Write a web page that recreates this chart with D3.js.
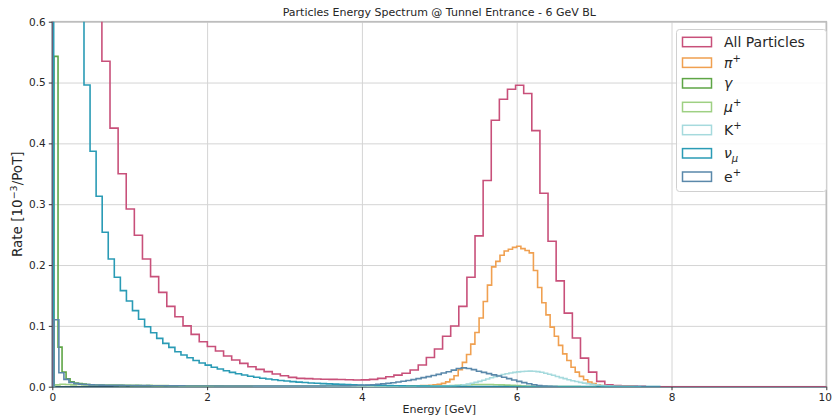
<!DOCTYPE html>
<html>
<head>
<meta charset="utf-8">
<script src="https://cdn.jsdelivr.net/npm/d3@7"></script>
<style>
  body { margin: 0; background: #fff; }
  svg { display: block; }
  text { font-family: "DejaVu Sans", sans-serif; }
</style>
</head>
<body>
<svg id="chart" width="832" height="417"></svg>
<script>
// ---- data -------------------------------------------------------------
const chartTitle = "Particles Energy Spectrum @ Tunnel Entrance - 6 GeV BL";
const xLabel = "Energy [GeV]";
const xTicks = [0, 2, 4, 6, 8, 10];
const yTicks = [0, 0.1, 0.2, 0.3, 0.4, 0.5, 0.6];

// Each species has its own 100-bin histogram: first edge and bin width in GeV,
// then the rate per bin in 10^-3 / PoT.
const allStart = 0.012, allWidth = 0.1048;
const allRate = [
  3.2, 2.3, 1.6, 1.15, 0.88, 0.69, 0.535, 0.425, 0.350, 0.292,
  0.249, 0.210, 0.181, 0.155, 0.132, 0.115, 0.100, 0.086, 0.074, 0.066,
  0.0586, 0.0504, 0.0438, 0.0384, 0.0329, 0.0285, 0.0247, 0.0208, 0.018, 0.0153,
  0.0137, 0.0132, 0.0126, 0.0123, 0.012, 0.0118, 0.0115, 0.011, 0.0113, 0.012,
  0.0137, 0.0164, 0.019, 0.022, 0.0274, 0.0356, 0.048, 0.062, 0.083, 0.0998,
  0.132, 0.180, 0.248, 0.339, 0.438, 0.4726, 0.489, 0.4956, 0.482, 0.421,
  0.318, 0.239, 0.174, 0.121, 0.080, 0.047, 0.024, 0.0088, 0.003, 0.002,
  0.001, 0.001, 0.0005, 0, 0, 0, 0, 0, 0, 0,
  0, 0, 0, 0, 0, 0, 0, 0, 0, 0,
  0, 0, 0, 0, 0, 0, 0, 0, 0, 0
];

const pipStart = 2.112, pipWidth = 0.054;
const pipRate = [
  0.0001, 0.0001, 0.0001, 0.0001, 0.0001, 0.0001, 0.0001, 0.0001, 0.0001, 0.0001,
  0.0001, 0.0001, 0.0001, 0.0001, 0.0001, 0.0001, 0.0001, 0.0001, 0.0001, 0.0001,
  0.0001, 0.0001, 0.0001, 0.0001, 0.0001, 0.0002, 0.0002, 0.0002, 0.0002, 0.0002,
  0.0002, 0.0002, 0.0003, 0.0003, 0.0003, 0.0003, 0.0004, 0.0004, 0.0004, 0.0005,
  0.0005, 0.0006, 0.0007, 0.0008, 0.0009, 0.001, 0.0011, 0.0013, 0.0015, 0.0017,
  0.002, 0.0025, 0.003, 0.004, 0.0055, 0.008, 0.012, 0.018, 0.028, 0.040,
  0.053, 0.070, 0.089, 0.113, 0.140, 0.167, 0.197, 0.206, 0.216, 0.223,
  0.226, 0.229, 0.231, 0.227, 0.224, 0.220, 0.191, 0.163, 0.138, 0.118,
  0.098, 0.083, 0.068, 0.054, 0.043, 0.032, 0.024, 0.017, 0.0115, 0.0077,
  0.005, 0.0033, 0.0018, 0.001, 0.0005, 0.0003, 0.0002, 0.0001, 0.0001, 0.0001
];

const gammaStart = 0.022, gammaWidth = 0.052;
const gammaRate = [
  0.543, 0.065, 0.024, 0.013, 0.008, 0.006, 0.005, 0.0042, 0.0036, 0.0032,
  0.0029, 0.0027, 0.0025, 0.0024, 0.0023, 0.0022, 0.0021, 0.002, 0.0019, 0.0018,
  0.0017, 0.0016, 0.0016, 0.0015, 0.0015, 0.0014, 0.0014, 0.0013, 0.0013, 0.0012,
  0.0012, 0.0011, 0.0011, 0.0011, 0.001, 0.001, 0.001, 0.001, 0.0009, 0.0009,
  0.0009, 0.0009, 0.0008, 0.0008, 0.0008, 0.0008, 0.0008, 0.0007, 0.0007, 0.0007,
  0.0007, 0.0006, 0.0006, 0.0006, 0.0006, 0.0006, 0.0006, 0.0005, 0.0005, 0.0005,
  0.0005, 0.0005, 0.0005, 0.0005, 0.0005, 0.0005, 0.0005, 0.0005, 0.0005, 0.0005,
  0.0005, 0.0005, 0.0005, 0.0005, 0.0005, 0.0005, 0.0004, 0.0004, 0.0004, 0.0004,
  0.0004, 0.0004, 0.0004, 0.0004, 0.0005, 0.0005, 0.0006, 0.0007, 0.0008, 0.0009,
  0.001, 0.001, 0.001, 0.0009, 0.0008, 0.0007, 0.0006, 0.0005, 0.0004, 0.0003
];

const mupStart = 0.03, mupWidth = 0.07;
const mupRate = [
  0.003, 0.004, 0.0035, 0.003, 0.0035, 0.003, 0.0028, 0.003, 0.0027, 0.0025,
  0.0028, 0.0024, 0.0022, 0.0025, 0.002, 0.0022, 0.0019, 0.0021, 0.0018, 0.0017,
  0.0019, 0.0016, 0.0015, 0.0008, 0.0007, 0.0007, 0.0006, 0.0006, 0.0006, 0.0005,
  0.0005, 0.0005, 0.0005, 0.0004, 0.0004, 0.0004, 0.0004, 0.0004, 0.0004, 0.0004,
  0.0004, 0.0004, 0.0004, 0.0004, 0.0004, 0.0004, 0.0004, 0.0004, 0.0004, 0.0004,
  0.0004, 0.0004, 0.0004, 0.0004, 0.0004, 0.0004, 0.0004, 0.0004, 0.0004, 0.0004,
  0.0005, 0.0005, 0.0006, 0.0006, 0.0007, 0.0007, 0.0008, 0.0008, 0.0009, 0.001,
  0.0011, 0.0012, 0.0015, 0.002, 0.0025, 0.003, 0.0034, 0.0036, 0.0037, 0.0036,
  0.0035, 0.0033, 0.003, 0.0026, 0.0022, 0.0017, 0.0012, 0.0008, 0.0005, 0.0003,
  0.0002, 0.0002, 0.0001, 0.0001, 0.0001, 0.0001, 0.0001, 0, 0, 0
];

const kpStart = 2.6, kpWidth = 0.05;
const kpRate = [
  0.0001, 0.0001, 0.0001, 0.0001, 0.0001, 0.0001, 0.0001, 0.0001, 0.0001, 0.0001,
  0.0001, 0.0001, 0.0001, 0.0001, 0.0001, 0.0001, 0.0001, 0.0001, 0.0001, 0.0001,
  0.0001, 0.0001, 0.0001, 0.0001, 0.0001, 0.0001, 0.0001, 0.0001, 0.0001, 0.0001,
  0.0002, 0.0002, 0.0002, 0.0002, 0.0002, 0.0002, 0.0002, 0.0002, 0.0002, 0.0002,
  0.0004, 0.0004, 0.0005, 0.0006, 0.0006, 0.0007, 0.0008, 0.0009, 0.001, 0.0011,
  0.0012, 0.0015, 0.0019, 0.0025, 0.0033, 0.0043, 0.0056, 0.0071, 0.0088, 0.0107,
  0.0127, 0.0147, 0.0166, 0.0184, 0.0200, 0.0214, 0.0226, 0.0236, 0.0244, 0.0250,
  0.0254, 0.0256, 0.0254, 0.0248, 0.0237, 0.0222, 0.0205, 0.0187, 0.0168, 0.0150,
  0.0132, 0.0115, 0.0099, 0.0085, 0.0071, 0.0059, 0.0048, 0.0039, 0.0031, 0.0024,
  0.0018, 0.0014, 0.0010, 0.0007, 0.0005, 0.0004, 0.0003, 0.0002, 0.0001, 0.0001
];

const numuStart = 0.018, numuWidth = 0.0783;
const numuRate = [
  4.5, 2.4, 1.4, 0.95, 0.70, 0.496, 0.387, 0.313, 0.254, 0.210,
  0.180, 0.158, 0.141, 0.125, 0.111, 0.0986, 0.0888, 0.0795, 0.0712, 0.0647,
  0.0575, 0.052, 0.0475, 0.043, 0.039, 0.0355, 0.032, 0.029, 0.0262, 0.0236,
  0.0213, 0.0192, 0.0173, 0.0156, 0.014, 0.0126, 0.0114, 0.0103, 0.0093, 0.0084,
  0.0076, 0.0069, 0.0062, 0.0056, 0.0051, 0.0046, 0.0042, 0.0038, 0.0034, 0.0031,
  0.0028, 0.0025, 0.0023, 0.0021, 0.0019, 0.0017, 0.0015, 0.0014, 0.0012, 0.0011,
  0.001, 0.0009, 0.0008, 0.0007, 0.0006, 0.0005, 0.0005, 0.0004, 0.0003, 0.0003,
  0.0002, 0.0002, 0.0002, 0.0002, 0.0002, 0.0001, 0.0001, 0.0001, 0.0001, 0.0001,
  0.0001, 0.0001, 0.0001, 0.0001, 0.0001, 0.0001, 0.0001, 0.0001, 0.0001, 0.0001,
  0.0001, 0.0001, 0.0001, 0.0001, 0.0001, 0.0001, 0.0001, 0.0001, 0.0001, 0.0001
];

const epStart = 0.02, epWidth = 0.065;
const epRate = [
  0.110, 0.023, 0.012, 0.007, 0.005, 0.004, 0.0035, 0.003, 0.0028, 0.0026,
  0.0025, 0.0024, 0.0022, 0.0021, 0.002, 0.0019, 0.0018, 0.0017, 0.0017, 0.0016,
  0.0015, 0.0015, 0.0014, 0.0014, 0.0013, 0.0013, 0.0012, 0.0012, 0.0012, 0.0011,
  0.0011, 0.0011, 0.001, 0.001, 0.001, 0.001, 0.0009, 0.0009, 0.0009, 0.0009,
  0.0009, 0.0009, 0.0009, 0.0009, 0.0009, 0.0009, 0.0009, 0.0009, 0.001, 0.001,
  0.001, 0.001, 0.001, 0.001, 0.0011, 0.0011, 0.0012, 0.0013, 0.0014, 0.0016,
  0.0019, 0.0022, 0.0027, 0.0033, 0.004, 0.0047, 0.0056, 0.0066, 0.0077, 0.0089,
  0.0102, 0.0117, 0.0133, 0.0149, 0.0166, 0.0184, 0.0203, 0.0224, 0.0246, 0.0272,
  0.0298, 0.031, 0.030, 0.028, 0.0255, 0.0235, 0.0215, 0.0195, 0.0175, 0.0155,
  0.0133, 0.011, 0.0088, 0.0067, 0.0048, 0.0031, 0.0018, 0.001, 0.0005, 0.0002
];

const seriesLabels = ["All Particles", "π+", "γ", "μ+", "K+", "νμ", "e+"];
const seriesColors = ["#c8507a", "#f0a050", "#5ea545", "#9ed083", "#a6dadd", "#2a9bb5", "#5a88aa"];

// ---- layout -----------------------------------------------------------
const plot = { left: 52.3, right: 826.3, top: 21.7, bottom: 386.7 };

const svg = d3.select("#chart");
const x = d3.scaleLinear().domain([0, 10]).range([plot.left, plot.right]);
const y = d3.scaleLinear().domain([0, 0.6]).range([plot.bottom, plot.top]);

// grid
svg.append("g")
  .attr("transform", `translate(0,${plot.bottom})`)
  .call(d3.axisBottom(x).tickValues(xTicks).tickSize(-(plot.bottom - plot.top)).tickFormat(""))
  .call(g => g.select(".domain").remove())
  .selectAll("line").attr("stroke", "#d4d4d4").attr("stroke-width", 1);
svg.append("g")
  .attr("transform", `translate(${plot.left},0)`)
  .call(d3.axisLeft(y).tickValues(yTicks).tickSize(-(plot.right - plot.left)).tickFormat(""))
  .call(g => g.select(".domain").remove())
  .selectAll("line").attr("stroke", "#d4d4d4").attr("stroke-width", 1);

// frame: light top/right, darker left/bottom spines
svg.append("rect")
  .attr("x", plot.left).attr("y", plot.top)
  .attr("width", plot.right - plot.left).attr("height", plot.bottom - plot.top)
  .attr("fill", "none").attr("stroke", "#bdbdbd").attr("stroke-width", 1.6);
svg.append("line")
  .attr("x1", plot.left).attr("x2", plot.right)
  .attr("y1", plot.bottom).attr("y2", plot.bottom)
  .attr("stroke", "#2d5566").attr("stroke-width", 1.4);
svg.append("line")
  .attr("x1", plot.left).attr("x2", plot.left)
  .attr("y1", plot.top).attr("y2", plot.bottom)
  .attr("stroke", "#2d5566").attr("stroke-width", 1.2);

// axes (ticks + labels)
const xAxis = svg.append("g")
  .attr("transform", `translate(0,${plot.bottom})`)
  .call(d3.axisBottom(x).tickValues(xTicks).tickSize(3.5).tickPadding(3).tickFormat(d3.format("d")));
xAxis.select(".domain").remove();
xAxis.selectAll("line").attr("stroke", "#333");
xAxis.selectAll("text").attr("font-size", 10.5).attr("fill", "#262626")
  .attr("font-family", "DejaVu Sans, sans-serif")
  .attr("dx", d => d === 10 ? -1.5 : 0);

const yAxis = svg.append("g")
  .attr("transform", `translate(${plot.left},0)`)
  .call(d3.axisLeft(y).tickValues(yTicks).tickSize(3.5).tickPadding(3).tickFormat(d3.format(".1f")));
yAxis.select(".domain").remove();
yAxis.selectAll("line").attr("stroke", "#333");
yAxis.selectAll("text").attr("font-size", 10.5).attr("fill", "#262626")
  .attr("font-family", "DejaVu Sans, sans-serif");

// histograms
const clipId = "plot-clip";
svg.append("clipPath").attr("id", clipId)
  .append("rect")
  .attr("x", plot.left).attr("y", plot.top)
  .attr("width", plot.right - plot.left).attr("height", plot.bottom - plot.top);

const histograms = [
  { start: allStart, width: allWidth, rate: allRate },
  { start: pipStart, width: pipWidth, rate: pipRate },
  { start: gammaStart, width: gammaWidth, rate: gammaRate },
  { start: mupStart, width: mupWidth, rate: mupRate },
  { start: kpStart, width: kpWidth, rate: kpRate },
  { start: numuStart, width: numuWidth, rate: numuRate },
  { start: epStart, width: epWidth, rate: epRate }
];

const stepLine = d3.line()
  .x(d => x(d[0]))
  .y(d => y(Math.min(d[1], 1.2)))
  .curve(d3.curveStepAfter);

function stepPoints(h) {
  const pts = [[h.start, 0]];
  h.rate.forEach((v, i) => pts.push([h.start + i * h.width, v]));
  pts.push([h.start + h.rate.length * h.width, 0]);
  return pts;
}

const lines = svg.append("g").attr("clip-path", `url(#${clipId})`);
histograms.forEach((h, i) => {
  lines.append("path")
    .attr("d", stepLine(stepPoints(h)))
    .attr("fill", "none")
    .attr("stroke", seriesColors[i])
    .attr("stroke-width", 1.6)
    .attr("stroke-linejoin", "miter");
});

// title and axis labels
svg.append("text")
  .attr("x", (plot.left + plot.right) / 2).attr("y", 15.5)
  .attr("text-anchor", "middle").attr("font-size", 11).attr("fill", "#262626")
  .text(chartTitle);

svg.append("text")
  .attr("x", (plot.left + plot.right) / 2).attr("y", 413)
  .attr("text-anchor", "middle").attr("font-size", 11).attr("fill", "#262626")
  .text(xLabel);

const yl = svg.append("text")
  .attr("transform", `translate(22,${(plot.top + plot.bottom) / 2}) rotate(-90)`)
  .attr("text-anchor", "middle").attr("font-size", 13.5).attr("fill", "#262626");
yl.append("tspan").text("Rate [10");
yl.append("tspan").attr("font-size", 9.5).attr("dy", -5).text("−3");
yl.append("tspan").attr("dy", 5).text("/PoT]");

// legend
const legend = svg.append("g");
legend.append("rect")
  .attr("x", 676.5).attr("y", 29.5).attr("width", 150).attr("height", 162)
  .attr("rx", 3).attr("fill", "#fff").attr("fill-opacity", 0.85)
  .attr("stroke", "#d0d0d0").attr("stroke-width", 1);

const legendRows = [42, 62.7, 83.3, 107, 130, 153.3, 176.7];
const labelParts = [
  { base: "All Particles" },
  { base: "π", sup: "+", italic: true },
  { base: "γ", italic: true },
  { base: "μ", sup: "+", italic: true },
  { base: "K", sup: "+" },
  { base: "ν", sub: "μ", italic: true },
  { base: "e", sup: "+" }
];
seriesLabels.forEach((name, i) => {
  const cy = legendRows[i];
  legend.append("rect")
    .attr("x", 682.5).attr("y", cy - 4.7).attr("width", 29).attr("height", 9.4)
    .attr("fill", "none").attr("stroke", seriesColors[i]).attr("stroke-width", 1.5);
  const p = labelParts[i];
  const t = legend.append("text")
    .attr("x", 724).attr("y", cy + 5).attr("font-size", 14).attr("fill", "#262626");
  t.append("tspan").attr("font-style", p.italic ? "italic" : "normal").text(p.base);
  if (p.sup) t.append("tspan").attr("font-size", 10).attr("dy", -6).text(p.sup);
  if (p.sub) t.append("tspan").attr("font-size", 10).attr("font-style", "italic").attr("dy", 4).text(p.sub);
});
</script>
</body>
</html>
